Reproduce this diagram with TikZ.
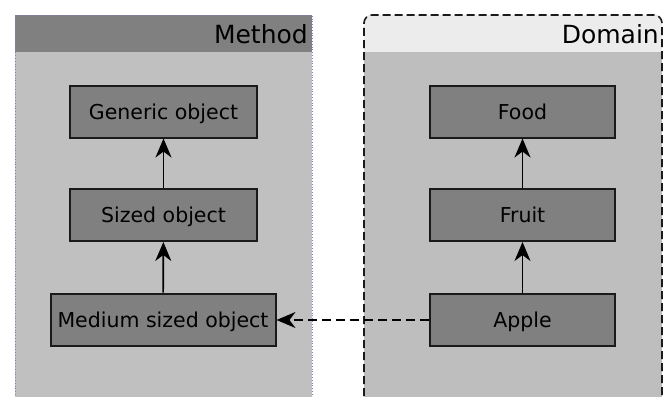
\documentclass[tikz,border=0pt]{standalone}
\usepackage{fontspec}
\setmainfont{DejaVu Sans}
\usetikzlibrary{arrows.meta}
\definecolor{hdrdark}{HTML}{808080}
\definecolor{hdrlight}{HTML}{ECECEC}
\definecolor{panelbody}{HTML}{C0C0C0}
\definecolor{domainbody}{HTML}{BEBEBE}
\definecolor{boxfill}{HTML}{808080}
\definecolor{boxline}{HTML}{1A1A1A}
\definecolor{dotline}{HTML}{8080C0}
\tikzset{
  conceptbox/.style={draw=boxline, fill=boxfill, line width=2pt, minimum height=52pt,
    inner sep=0pt, text height=15pt, text depth=0pt, font=\fontsize{20.5}{24}\selectfont},
  tipshape/.style={-{Stealth[length=19pt,width=16pt,inset=6pt]}},
  isa/.style={line width=1.7pt, tipshape},
  mapsto/.style={line width=1.7pt, dash pattern=on 9pt off 5pt, tipshape},
  paneltitle/.style={font=\fontsize{25}{30}\selectfont, anchor=east, inner sep=0pt}
}
\begin{document}
\begin{tikzpicture}[x=1pt,y=-1pt]
  \useasboundingbox (0,0) rectangle (666,396);
  \clip (0,0) rectangle (666,396);
  % Method panel
  \fill[panelbody] (15,15) rectangle (312,420);
  \fill[hdrdark] (15,15) rectangle (312,52);
  \draw[dotline, line width=0.8pt, dotted] (15,420) -- (15,15) -- (312,15) -- (312,420);
  \node[paneltitle] (methodtitle) at (308,34.5) {Method};
  % Domain panel
  \begin{scope}
    \clip[rounded corners=8pt] (364,15) rectangle (662,440);
    \fill[domainbody] (364,15) rectangle (662,440);
    \fill[hdrlight] (364,15) rectangle (662,52);
  \end{scope}
  \draw[boxline, line width=1.6pt, dash pattern=on 8pt off 4pt, rounded corners=8pt]
    (364,440) rectangle (662,15);
  \node[paneltitle] (domaintitle) at (659,34.5) {Domain};
  % Method concepts
  \node[conceptbox, minimum width=187pt] (generic) at (163.5,111.5) {Generic object};
  \node[conceptbox, minimum width=187pt] (sized) at (163.5,215) {Sized object};
  \node[conceptbox, minimum width=225pt] (medium) at (163,319.5) {Medium sized object};
  % Domain concepts
  \node[conceptbox, minimum width=185pt] (food) at (522.5,111.5) {Food};
  \node[conceptbox, minimum width=185pt] (fruit) at (522.5,215) {Fruit};
  \node[conceptbox, minimum width=185pt] (apple) at (522.5,320) {Apple};
  % Connectors
  \draw[isa] (sized) -- (generic);
  \draw[isa] (medium) -- (sized);
  \draw[isa] (fruit) -- (food);
  \draw[isa] (apple) -- (fruit);
  \draw[mapsto] (apple.west) -- (medium.east |- apple.west);
\end{tikzpicture}
\end{document}
